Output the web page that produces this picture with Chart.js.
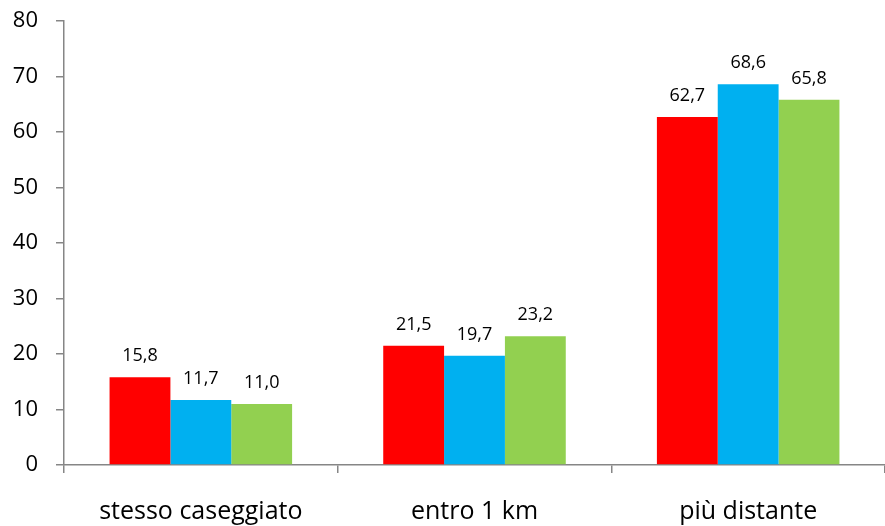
<!DOCTYPE html>
<html>
<head>
<meta charset="utf-8">
<script src="https://cdn.jsdelivr.net/npm/chart.js@4/dist/chart.umd.min.js"></script>
<style>
  html, body { margin: 0; padding: 0; background: #fff; }
  #wrap { width: 885px; height: 526px; }
</style>
</head>
<body>
<div id="wrap"><canvas id="c" width="885" height="526"></canvas></div>
<script>
const categories = ['stesso caseggiato', 'entro 1 km', 'più distante'];
const serieRossa = [15.8, 21.5, 62.7];
const serieAzzurra = [11.7, 19.7, 68.6];
const serieVerde = [11.0, 23.2, 65.8];
const yTicks = [0, 10, 20, 30, 40, 50, 60, 70, 80];

const FONT = '"Open Sans", "Liberation Sans", sans-serif';
const AXIS = '#868686';

// Value labels above each bar, with Italian decimal comma
const valueLabels = {
  id: 'valueLabels',
  afterDatasetsDraw(chart) {
    const ctx = chart.ctx;
    ctx.save();
    ctx.font = '18px ' + FONT;
    ctx.fillStyle = '#000';
    ctx.textAlign = 'center';
    ctx.textBaseline = 'alphabetic';
    chart.data.datasets.forEach((ds, i) => {
      chart.getDatasetMeta(i).data.forEach((bar, j) => {
        const txt = ds.data[j].toFixed(1).replace('.', ',');
        ctx.fillText(txt, bar.x, bar.y - 16);
      });
    });
    ctx.restore();
  }
};

new Chart(document.getElementById('c'), {
  type: 'bar',
  data: {
    labels: categories,
    datasets: [
      { data: serieRossa, backgroundColor: '#FF0000' },
      { data: serieAzzurra, backgroundColor: '#00B0F0' },
      { data: serieVerde, backgroundColor: '#92D050' }
    ]
  },
  options: {
    responsive: false,
    animation: false,
    layout: { padding: { top: 0, right: 0, left: 0, bottom: 0 } },
    plugins: { legend: { display: false }, tooltip: { enabled: false } },
    datasets: { bar: { categoryPercentage: 0.667, barPercentage: 1.0 } },
    scales: {
      x: {
        grid: {
          offset: true,
          drawOnChartArea: false,
          drawTicks: true,
          tickLength: 8,
          color: AXIS,
          lineWidth: 1.5
        },
        border: { display: true, color: AXIS, width: 1.5 },
        ticks: { color: '#000', font: { family: FONT, size: 25 }, padding: 24, maxRotation: 0 },
        afterFit(scale) { scale.height = 61; }
      },
      y: {
        min: 0,
        max: 80,
        afterBuildTicks(scale) { scale.ticks = yTicks.map(v => ({ value: v })); },
        grid: {
          drawOnChartArea: false,
          drawTicks: true,
          tickLength: 8,
          color: AXIS,
          lineWidth: 1.5
        },
        border: { display: true, color: AXIS, width: 1.5 },
        ticks: { color: '#000', font: { family: FONT, size: 22 }, padding: 18 },
        afterFit(scale) {
          scale.width = 64;
          scale.paddingTop = 21;
          scale.paddingBottom = 0;
        }
      }
    }
  },
  plugins: [valueLabels]
});
</script>
</body>
</html>
